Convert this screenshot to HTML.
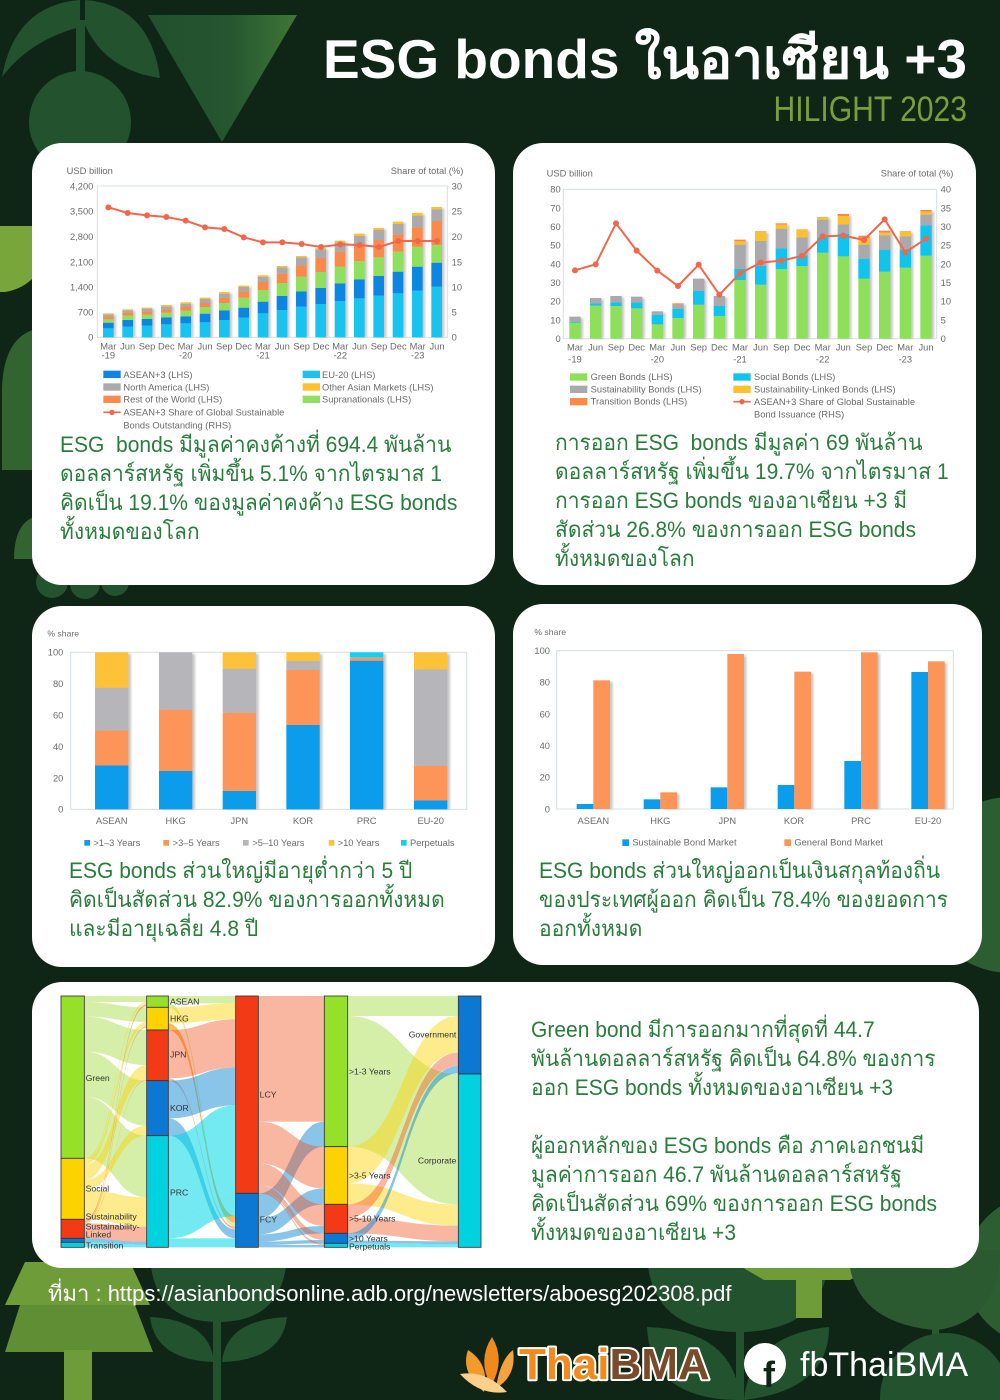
<!DOCTYPE html>
<html><head><meta charset="utf-8">
<style>
html,body{margin:0;padding:0;}
body{width:1000px;height:1400px;position:relative;overflow:hidden;background:#0f2617;font-family:"Liberation Sans",sans-serif;}
.card{position:absolute;background:#fff;border-radius:30px;}
.tx{position:absolute;white-space:nowrap;font-family:"Liberation Sans",sans-serif;font-size:22px;line-height:29px;color:#2a7d3c;transform:scaleX(0.955);transform-origin:left top;}
svg text{font-family:"Liberation Sans",sans-serif;}
.abs{position:absolute;}
</style></head>
<body>
<!-- Background decorations -->
<svg class="abs" style="left:0;top:0" width="1000" height="1400" viewBox="0 0 1000 1400">
<defs>
<linearGradient id="tri" x1="0" y1="0" x2="1" y2="0">
<stop offset="0" stop-color="#22502d"/><stop offset="0.55" stop-color="#255630"/><stop offset="1" stop-color="#3f7636"/>
</linearGradient>
</defs>
<rect width="1000" height="1400" fill="#0f2617"/>
<g fill="#23522f">
<path d="M2 77 Q15 5 80 0 L80 27 Q30 40 2 77 Z"/>
<path d="M85 0 Q150 5 160 78 Q105 70 85 25 Z"/>
<rect x="76" y="20" width="9" height="55"/>
<circle cx="80" cy="122" r="51"/>
</g>
<polygon points="148,15 297,15 222,142" fill="url(#tri)"/>
<path d="M0 226 L50 226 Q48 285 5 292 L0 292 Z" fill="#79a63b"/>
<path d="M40 328 Q0 335 2 400 L2 470 L40 470 Z" fill="#32642f"/>
<path d="M40 515 Q14 520 14 559 L40 559 Z" fill="#32642f"/>
<circle cx="52" cy="582" r="16" fill="#23522f"/>
<circle cx="85" cy="584" r="15" fill="#23522f"/>
<circle cx="115" cy="582" r="14" fill="#23522f"/>
<circle cx="1010" cy="885" r="88" fill="#2d5e31"/>
<circle cx="1040" cy="1270" r="75" fill="#2d5e31"/>
<!-- bottom left tree -->
<g fill="#6e9c38">
<polygon points="25,1262 130,1262 150,1305 5,1305"/>
<polygon points="20,1305 135,1305 153,1352 5,1352" fill="#5f8e35"/>
<rect x="64" y="1350" width="28" height="50"/>
</g>
<!-- tulip -->
<g fill="#23522f">
<path d="M150 1250 L287 1250 Q287 1322 218 1322 Q150 1322 150 1250 Z"/>
<rect x="213" y="1300" width="8" height="100"/>
<path d="M150 1317 Q155 1360 214 1362 Q210 1320 150 1317 Z"/>
<path d="M287 1317 Q282 1360 222 1362 Q226 1320 287 1317 Z"/>
</g>
<!-- bottom right -->
<g fill="#23522f">
<path d="M647 1250 L829 1250 Q829 1332 738 1332 Q647 1332 647 1250 Z"/>
<rect x="736" y="1300" width="8" height="100"/>
<path d="M740 1400 Q650 1400 647 1327 Q735 1330 740 1400 Z"/>
<path d="M744 1400 Q829 1390 829 1327 Q750 1335 744 1400 Z"/>
</g>
<polygon points="740,1266 874,1266 850,1280 764,1280" fill="#6e9c38"/>
<rect x="796" y="1266" width="26" height="52" fill="#6e9c38"/>
<g fill="#2c5a30">
<path d="M934 1330 Q850 1322 848 1250 L934 1250 Z"/>
<path d="M938 1330 Q1000 1320 1000 1250 L938 1250 Z"/>
<rect x="932" y="1250" width="7" height="90"/>
</g>
<circle cx="945" cy="1398" r="65" fill="#23522f"/>
<!-- logo -->
<path d="M484 1392 Q460 1372 468 1350 Q490 1364 484 1392 Z" fill="#f39a2c"/>
<path d="M491 1386 Q477 1360 492 1337 Q506 1360 491 1386 Z" fill="#f08a1e"/>
<path d="M496 1388 Q500 1360 513 1350 Q517 1376 496 1388 Z" fill="#f4a340"/>
<path d="M460 1374 Q480 1396 507 1392 Q486 1370 460 1374 Z" fill="#fcd08a"/>
<text x="519" y="1379" font-size="44" font-weight="bold" stroke="#ffffff" stroke-width="4" paint-order="stroke" stroke-linejoin="round"><tspan fill="#f28a1e">Thai</tspan><tspan fill="#7a4b2a">BMA</tspan></text>
<circle cx="765" cy="1364" r="21" fill="#ffffff"/>
<text x="769" y="1387" font-size="36" font-weight="bold" fill="#0f2617" text-anchor="middle">f</text>
<text x="800" y="1376" font-size="34" fill="#ffffff">fbThaiBMA</text>
</svg>

<!-- Header -->
<div class="abs" style="right:33px;top:32px;font-weight:bold;font-size:55px;line-height:55px;color:#fff;white-space:nowrap;">ESG bonds ในอาเซียน +3</div>
<div class="abs" style="right:33px;top:92px;font-size:35px;line-height:35px;color:#7a9e3c;white-space:nowrap;transform:scaleX(0.86);transform-origin:right center;">HILIGHT 2023</div>

<!-- Cards -->
<div class="card" style="left:32px;top:143px;width:463px;height:442px;"></div>
<div class="card" style="left:513px;top:143px;width:463px;height:442px;"></div>
<div class="card" style="left:32px;top:606px;width:463px;height:361px;"></div>
<div class="card" style="left:513px;top:604px;width:469px;height:361px;"></div>
<div class="card" style="left:32px;top:982px;width:947px;height:286px;"></div>

<!-- Chart 1 -->
<svg class="abs" style="left:40px;top:150px" width="450" height="285" viewBox="0 0 1350 855">
<defs><filter id="sh1" x="-20%" y="-20%" width="140%" height="140%"><feGaussianBlur stdDeviation="3"/></filter></defs>
<style>.c1{fill:#19c3f0}.b1{fill:#0b86e3}.g1{fill:#8fe05c}.o1{fill:#fb8a4a}.y1{fill:#a9a9ae}.l1{fill:#fcc12c}.t1{fill:#6b6b6b;font-size:28px}</style>
<rect x="172" y="108" width="1050" height="454" fill="none" stroke="#d8e0e3" stroke-width="3"/>
<text class="t1" x="80" y="72">USD billion</text>
<text class="t1" x="1270" y="72" text-anchor="end">Share of total (%)</text>
<g class="t1" text-anchor="end">
<text x="160" y="118">4,200</text><text x="160" y="194">3,500</text><text x="160" y="270">2,800</text><text x="160" y="346">2,100</text><text x="160" y="421">1,400</text><text x="160" y="497">700</text><text x="160" y="572">0</text>
</g>
<g class="t1">
<text x="1235" y="118">30</text><text x="1235" y="194">25</text><text x="1235" y="270">20</text><text x="1235" y="346">15</text><text x="1235" y="421">10</text><text x="1235" y="497">5</text><text x="1235" y="572">0</text>
</g>
<g fill="#9a9a9a" opacity="0.55" filter="url(#sh1)">
<rect x="196" y="494" width="32" height="68"/><rect x="254" y="482" width="32" height="80"/><rect x="312" y="477" width="32" height="85"/><rect x="370" y="469" width="32" height="93"/><rect x="428" y="461" width="32" height="101"/><rect x="486" y="447" width="32" height="115"/><rect x="544" y="430" width="32" height="132"/><rect x="602" y="411" width="32" height="151"/><rect x="660" y="380" width="32" height="182"/><rect x="717" y="352" width="32" height="210"/><rect x="775" y="322" width="32" height="240"/><rect x="833" y="298" width="32" height="264"/><rect x="891" y="276" width="32" height="286"/><rect x="949" y="255" width="32" height="307"/><rect x="1007" y="238" width="32" height="324"/><rect x="1065" y="219" width="32" height="343"/><rect x="1123" y="193" width="32" height="369"/><rect x="1181" y="175" width="32" height="387"/>
</g>
<g>
<rect class="c1" x="189" y="535" width="32" height="27"/><rect class="b1" x="189" y="518" width="32" height="17"/><rect class="g1" x="189" y="508" width="32" height="10"/><rect class="o1" x="189" y="500" width="32" height="8"/><rect class="y1" x="189" y="493" width="32" height="7"/><rect class="l1" x="189" y="490" width="32" height="3"/>
<rect class="c1" x="247" y="530" width="32" height="32"/><rect class="b1" x="247" y="510" width="32" height="20"/><rect class="g1" x="247" y="497" width="32" height="13"/><rect class="o1" x="247" y="488" width="32" height="9"/><rect class="y1" x="247" y="481" width="32" height="7"/><rect class="l1" x="247" y="478" width="32" height="3"/>
<rect class="c1" x="305" y="527" width="32" height="35"/><rect class="b1" x="305" y="507" width="32" height="20"/><rect class="g1" x="305" y="494" width="32" height="13"/><rect class="o1" x="305" y="484" width="32" height="10"/><rect class="y1" x="305" y="476" width="32" height="8"/><rect class="l1" x="305" y="473" width="32" height="3"/>
<rect class="c1" x="363" y="523" width="32" height="39"/><rect class="b1" x="363" y="502" width="32" height="21"/><rect class="g1" x="363" y="488" width="32" height="14"/><rect class="o1" x="363" y="478" width="32" height="10"/><rect class="y1" x="363" y="469" width="32" height="9"/><rect class="l1" x="363" y="465" width="32" height="4"/>
<rect class="c1" x="421" y="520" width="32" height="42"/><rect class="b1" x="421" y="499" width="32" height="21"/><rect class="g1" x="421" y="482" width="32" height="17"/><rect class="o1" x="421" y="470" width="32" height="12"/><rect class="y1" x="421" y="461" width="32" height="9"/><rect class="l1" x="421" y="457" width="32" height="4"/>
<rect class="c1" x="479" y="517" width="32" height="45"/><rect class="b1" x="479" y="491" width="32" height="26"/><rect class="g1" x="479" y="471" width="32" height="20"/><rect class="o1" x="479" y="459" width="32" height="12"/><rect class="y1" x="479" y="447" width="32" height="12"/><rect class="l1" x="479" y="443" width="32" height="4"/>
<rect class="c1" x="537" y="510" width="32" height="52"/><rect class="b1" x="537" y="481" width="32" height="29"/><rect class="g1" x="537" y="459" width="32" height="22"/><rect class="o1" x="537" y="443" width="32" height="16"/><rect class="y1" x="537" y="431" width="32" height="12"/><rect class="l1" x="537" y="426" width="32" height="5"/>
<rect class="c1" x="595" y="503" width="32" height="59"/><rect class="b1" x="595" y="473" width="32" height="30"/><rect class="g1" x="595" y="443" width="32" height="30"/><rect class="o1" x="595" y="424" width="32" height="19"/><rect class="y1" x="595" y="411" width="32" height="13"/><rect class="l1" x="595" y="407" width="32" height="4"/>
<rect class="c1" x="653" y="490" width="32" height="72"/><rect class="b1" x="653" y="455" width="32" height="35"/><rect class="g1" x="653" y="420" width="32" height="35"/><rect class="o1" x="653" y="396" width="32" height="24"/><rect class="y1" x="653" y="381" width="32" height="15"/><rect class="l1" x="653" y="376" width="32" height="5"/>
<rect class="c1" x="710" y="480" width="32" height="82"/><rect class="b1" x="710" y="438" width="32" height="42"/><rect class="g1" x="710" y="399" width="32" height="39"/><rect class="o1" x="710" y="371" width="32" height="28"/><rect class="y1" x="710" y="352" width="32" height="19"/><rect class="l1" x="710" y="348" width="32" height="4"/>
<rect class="c1" x="768" y="470" width="32" height="92"/><rect class="b1" x="768" y="424" width="32" height="46"/><rect class="g1" x="768" y="380" width="32" height="44"/><rect class="o1" x="768" y="346" width="32" height="34"/><rect class="y1" x="768" y="322" width="32" height="24"/><rect class="l1" x="768" y="318" width="32" height="4"/>
<rect class="c1" x="826" y="462" width="32" height="100"/><rect class="b1" x="826" y="414" width="32" height="48"/><rect class="g1" x="826" y="366" width="32" height="48"/><rect class="o1" x="826" y="323" width="32" height="43"/><rect class="y1" x="826" y="298" width="32" height="25"/><rect class="l1" x="826" y="294" width="32" height="4"/>
<rect class="c1" x="884" y="453" width="32" height="109"/><rect class="b1" x="884" y="400" width="32" height="53"/><rect class="g1" x="884" y="350" width="32" height="50"/><rect class="o1" x="884" y="305" width="32" height="45"/><rect class="y1" x="884" y="277" width="32" height="28"/><rect class="l1" x="884" y="272" width="32" height="5"/>
<rect class="c1" x="942" y="445" width="32" height="117"/><rect class="b1" x="942" y="388" width="32" height="57"/><rect class="g1" x="942" y="333" width="32" height="55"/><rect class="o1" x="942" y="285" width="32" height="48"/><rect class="y1" x="942" y="258" width="32" height="27"/><rect class="l1" x="942" y="251" width="32" height="7"/>
<rect class="c1" x="1000" y="437" width="32" height="125"/><rect class="b1" x="1000" y="378" width="32" height="59"/><rect class="g1" x="1000" y="322" width="32" height="56"/><rect class="o1" x="1000" y="270" width="32" height="52"/><rect class="y1" x="1000" y="240" width="32" height="30"/><rect class="l1" x="1000" y="234" width="32" height="6"/>
<rect class="c1" x="1058" y="430" width="32" height="132"/><rect class="b1" x="1058" y="365" width="32" height="65"/><rect class="g1" x="1058" y="305" width="32" height="60"/><rect class="o1" x="1058" y="253" width="32" height="52"/><rect class="y1" x="1058" y="222" width="32" height="31"/><rect class="l1" x="1058" y="215" width="32" height="7"/>
<rect class="c1" x="1116" y="422" width="32" height="140"/><rect class="b1" x="1116" y="350" width="32" height="72"/><rect class="g1" x="1116" y="290" width="32" height="60"/><rect class="o1" x="1116" y="232" width="32" height="58"/><rect class="y1" x="1116" y="197" width="32" height="35"/><rect class="l1" x="1116" y="189" width="32" height="8"/>
<rect class="c1" x="1174" y="410" width="32" height="152"/><rect class="b1" x="1174" y="338" width="32" height="72"/><rect class="g1" x="1174" y="285" width="32" height="53"/><rect class="o1" x="1174" y="213" width="32" height="72"/><rect class="y1" x="1174" y="178" width="32" height="35"/><rect class="l1" x="1174" y="171" width="32" height="7"/>
</g>
<polyline fill="none" stroke="#f2664a" stroke-width="6" points="205,172 263,189 321,196 379,201 437,212 495,232 553,237 611,262 669,277 727,277 785,282 843,291 901,283 959,285 1017,291 1075,273 1133,273 1191,273"/>
<g fill="#f2664a">
<circle cx="205" cy="172" r="9"/><circle cx="263" cy="189" r="9"/><circle cx="321" cy="196" r="9"/><circle cx="379" cy="201" r="9"/><circle cx="437" cy="212" r="9"/><circle cx="495" cy="232" r="9"/><circle cx="553" cy="237" r="9"/><circle cx="611" cy="262" r="9"/><circle cx="669" cy="277" r="9"/><circle cx="727" cy="277" r="9"/><circle cx="785" cy="282" r="9"/><circle cx="843" cy="291" r="9"/><circle cx="901" cy="283" r="9"/><circle cx="959" cy="285" r="9"/><circle cx="1017" cy="291" r="9"/><circle cx="1075" cy="273" r="9"/><circle cx="1133" cy="273" r="9"/><circle cx="1191" cy="273" r="9"/>
</g>
<g class="t1" text-anchor="middle">
<text x="205" y="598">Mar</text><text x="263" y="598">Jun</text><text x="321" y="598">Sep</text><text x="379" y="598">Dec</text><text x="437" y="598">Mar</text><text x="495" y="598">Jun</text><text x="553" y="598">Sep</text><text x="611" y="598">Dec</text><text x="669" y="598">Mar</text><text x="727" y="598">Jun</text><text x="785" y="598">Sep</text><text x="843" y="598">Dec</text><text x="901" y="598">Mar</text><text x="959" y="598">Jun</text><text x="1017" y="598">Sep</text><text x="1075" y="598">Dec</text><text x="1133" y="598">Mar</text><text x="1191" y="598">Jun</text>
<text x="205" y="625">-19</text><text x="437" y="625">-20</text><text x="669" y="625">-21</text><text x="901" y="625">-22</text><text x="1133" y="625">-23</text>
</g>
<rect class="b1" x="190" y="662" width="52" height="22"/><text class="t1" x="250" y="684">ASEAN+3 (LHS)</text>
<rect class="y1" x="190" y="700" width="52" height="22"/><text class="t1" x="250" y="721">North America (LHS)</text>
<rect class="o1" x="190" y="737" width="52" height="22"/><text class="t1" x="250" y="758">Rest of the World (LHS)</text>
<line x1="190" y1="787" x2="242" y2="787" stroke="#f2664a" stroke-width="5"/><circle cx="216" cy="787" r="8" fill="#f2664a"/>
<text class="t1" x="250" y="797">ASEAN+3 Share of Global Sustainable</text>
<text class="t1" x="250" y="836">Bonds Outstanding (RHS)</text>
<rect class="c1" x="788" y="662" width="52" height="22"/><text class="t1" x="846" y="684">EU-20 (LHS)</text>
<rect class="l1" x="788" y="700" width="52" height="22"/><text class="t1" x="846" y="721">Other Asian Markets (LHS)</text>
<rect class="g1" x="788" y="737" width="52" height="22"/><text class="t1" x="846" y="758">Supranationals (LHS)</text>
</svg>

<!-- Chart 2 -->
<svg class="abs" style="left:530px;top:160px" width="440" height="265" viewBox="0 0 1320 795">
<defs><filter id="sh2" x="-20%" y="-20%" width="140%" height="140%"><feGaussianBlur stdDeviation="3"/></filter></defs>
<style>.g2{fill:#8ee05a}.s2{fill:#10c4ee}.y2{fill:#a9a9ae}.l2{fill:#fcc12c}.o2{fill:#fb8a4a}.t2{fill:#6b6b6b;font-size:28px}</style>
<rect x="100" y="88" width="1120" height="448" fill="none" stroke="#d8e0e3" stroke-width="3"/>
<text class="t2" x="50" y="50">USD billion</text>
<text class="t2" x="1270" y="50" text-anchor="end">Share of total (%)</text>
<g class="t2" text-anchor="end">
<text x="92" y="98">80</text><text x="92" y="154">70</text><text x="92" y="210">60</text><text x="92" y="266">50</text><text x="92" y="322">40</text><text x="92" y="378">30</text><text x="92" y="434">20</text><text x="92" y="490">10</text><text x="92" y="546">0</text>
</g>
<g class="t2">
<text x="1232" y="98">40</text><text x="1232" y="154">35</text><text x="1232" y="210">30</text><text x="1232" y="266">25</text><text x="1232" y="322">20</text><text x="1232" y="378">15</text><text x="1232" y="434">10</text><text x="1232" y="490">5</text><text x="1232" y="546">0</text>
</g>
<g fill="#9a9a9a" opacity="0.55" filter="url(#sh2)">
<rect x="125" y="474" width="34" height="62"/><rect x="187" y="418" width="34" height="118"/><rect x="248" y="412" width="34" height="124"/><rect x="310" y="414" width="34" height="122"/><rect x="372" y="458" width="34" height="78"/><rect x="434" y="434" width="34" height="102"/><rect x="496" y="360" width="34" height="176"/><rect x="558" y="412" width="34" height="124"/><rect x="620" y="243" width="34" height="293"/><rect x="682" y="218" width="34" height="318"/><rect x="744" y="194" width="34" height="342"/><rect x="806" y="212" width="34" height="324"/><rect x="868" y="175" width="34" height="361"/><rect x="930" y="166" width="34" height="370"/><rect x="992" y="231" width="34" height="305"/><rect x="1054" y="216" width="34" height="320"/><rect x="1116" y="218" width="34" height="318"/><rect x="1178" y="154" width="34" height="382"/>
</g>
<g>
<rect class="g2" x="118" y="488" width="34" height="48"/><rect class="s2" x="118" y="485" width="34" height="3"/><rect class="y2" x="118" y="470" width="34" height="15"/>
<rect class="g2" x="180" y="437" width="34" height="99"/><rect class="s2" x="180" y="430" width="34" height="7"/><rect class="y2" x="180" y="414" width="34" height="16"/>
<rect class="g2" x="241" y="438" width="34" height="98"/><rect class="s2" x="241" y="427" width="34" height="11"/><rect class="y2" x="241" y="408" width="34" height="19"/>
<rect class="g2" x="303" y="445" width="34" height="91"/><rect class="s2" x="303" y="427" width="34" height="18"/><rect class="y2" x="303" y="410" width="34" height="17"/>
<rect class="g2" x="365" y="493" width="34" height="43"/><rect class="s2" x="365" y="464" width="34" height="29"/><rect class="y2" x="365" y="454" width="34" height="10"/>
<rect class="g2" x="427" y="474" width="34" height="62"/><rect class="s2" x="427" y="446" width="34" height="28"/><rect class="y2" x="427" y="434" width="34" height="12"/><rect class="o2" x="427" y="430" width="34" height="4"/>
<rect class="g2" x="489" y="434" width="34" height="102"/><rect class="s2" x="489" y="393" width="34" height="41"/><rect class="y2" x="489" y="356" width="34" height="37"/>
<rect class="g2" x="551" y="468" width="34" height="68"/><rect class="s2" x="551" y="438" width="34" height="30"/><rect class="y2" x="551" y="408" width="34" height="30"/>
<rect class="g2" x="613" y="360" width="34" height="176"/><rect class="s2" x="613" y="327" width="34" height="33"/><rect class="y2" x="613" y="254" width="34" height="73"/><rect class="l2" x="613" y="244" width="34" height="10"/><rect class="o2" x="613" y="239" width="34" height="5"/>
<rect class="g2" x="675" y="374" width="34" height="162"/><rect class="s2" x="675" y="318" width="34" height="56"/><rect class="y2" x="675" y="243" width="34" height="75"/><rect class="l2" x="675" y="216" width="34" height="27"/><rect class="o2" x="675" y="214" width="34" height="2"/>
<rect class="g2" x="737" y="327" width="34" height="209"/><rect class="s2" x="737" y="265" width="34" height="62"/><rect class="y2" x="737" y="207" width="34" height="58"/><rect class="l2" x="737" y="194" width="34" height="13"/><rect class="o2" x="737" y="190" width="34" height="4"/>
<rect class="g2" x="799" y="318" width="34" height="218"/><rect class="s2" x="799" y="286" width="34" height="32"/><rect class="y2" x="799" y="232" width="34" height="54"/><rect class="l2" x="799" y="209" width="34" height="23"/><rect class="o2" x="799" y="208" width="34" height="1"/>
<rect class="g2" x="861" y="278" width="34" height="258"/><rect class="s2" x="861" y="232" width="34" height="46"/><rect class="y2" x="861" y="179" width="34" height="53"/><rect class="l2" x="861" y="172" width="34" height="7"/><rect class="o2" x="861" y="171" width="34" height="1"/>
<rect class="g2" x="923" y="289" width="34" height="247"/><rect class="s2" x="923" y="222" width="34" height="67"/><rect class="y2" x="923" y="193" width="34" height="29"/><rect class="l2" x="923" y="168" width="34" height="25"/><rect class="o2" x="923" y="162" width="34" height="6"/>
<rect class="g2" x="985" y="356" width="34" height="180"/><rect class="s2" x="985" y="296" width="34" height="60"/><rect class="y2" x="985" y="254" width="34" height="42"/><rect class="l2" x="985" y="234" width="34" height="20"/><rect class="o2" x="985" y="227" width="34" height="7"/>
<rect class="g2" x="1047" y="335" width="34" height="201"/><rect class="s2" x="1047" y="269" width="34" height="66"/><rect class="y2" x="1047" y="226" width="34" height="43"/><rect class="l2" x="1047" y="218" width="34" height="8"/><rect class="o2" x="1047" y="212" width="34" height="6"/>
<rect class="g2" x="1109" y="323" width="34" height="213"/><rect class="s2" x="1109" y="268" width="34" height="55"/><rect class="y2" x="1109" y="229" width="34" height="39"/><rect class="l2" x="1109" y="216" width="34" height="13"/><rect class="o2" x="1109" y="214" width="34" height="2"/>
<rect class="g2" x="1171" y="287" width="34" height="249"/><rect class="s2" x="1171" y="196" width="34" height="91"/><rect class="y2" x="1171" y="164" width="34" height="32"/><rect class="l2" x="1171" y="155" width="34" height="9"/><rect class="o2" x="1171" y="150" width="34" height="5"/>
</g>
<polyline fill="none" stroke="#f2664a" stroke-width="6" points="135,331 197,313 258,190 320,272 382,332 444,378 506,314 568,404 630,340 692,308 754,302 816,288 878,229 940,227 1002,240 1064,178 1126,277 1188,236"/>
<g fill="#f2664a">
<circle cx="135" cy="331" r="9"/><circle cx="197" cy="313" r="9"/><circle cx="258" cy="190" r="9"/><circle cx="320" cy="272" r="9"/><circle cx="382" cy="332" r="9"/><circle cx="444" cy="378" r="9"/><circle cx="506" cy="314" r="9"/><circle cx="568" cy="404" r="9"/><circle cx="630" cy="340" r="9"/><circle cx="692" cy="308" r="9"/><circle cx="754" cy="302" r="9"/><circle cx="816" cy="288" r="9"/><circle cx="878" cy="229" r="9"/><circle cx="940" cy="227" r="9"/><circle cx="1002" cy="240" r="9"/><circle cx="1064" cy="178" r="9"/><circle cx="1126" cy="277" r="9"/><circle cx="1188" cy="236" r="9"/>
</g>
<g class="t2" text-anchor="middle">
<text x="135" y="572">Mar</text><text x="197" y="572">Jun</text><text x="258" y="572">Sep</text><text x="320" y="572">Dec</text><text x="382" y="572">Mar</text><text x="444" y="572">Jun</text><text x="506" y="572">Sep</text><text x="568" y="572">Dec</text><text x="630" y="572">Mar</text><text x="692" y="572">Jun</text><text x="754" y="572">Sep</text><text x="816" y="572">Dec</text><text x="878" y="572">Mar</text><text x="940" y="572">Jun</text><text x="1002" y="572">Sep</text><text x="1064" y="572">Dec</text><text x="1126" y="572">Mar</text><text x="1188" y="572">Jun</text>
<text x="135" y="607">-19</text><text x="382" y="607">-20</text><text x="630" y="607">-21</text><text x="878" y="607">-22</text><text x="1126" y="607">-23</text>
</g>
<rect class="g2" x="120" y="640" width="52" height="22"/><text class="t2" x="182" y="660">Green Bonds (LHS)</text>
<rect class="y2" x="120" y="677" width="52" height="22"/><text class="t2" x="182" y="697">Sustainability Bonds (LHS)</text>
<rect class="o2" x="120" y="714" width="52" height="22"/><text class="t2" x="182" y="734">Transition Bonds (LHS)</text>
<rect class="s2" x="610" y="640" width="52" height="22"/><text class="t2" x="672" y="660">Social Bonds (LHS)</text>
<rect class="l2" x="610" y="677" width="52" height="22"/><text class="t2" x="672" y="697">Sustainability-Linked Bonds (LHS)</text>
<line x1="610" y1="725" x2="662" y2="725" stroke="#f2664a" stroke-width="5"/><circle cx="636" cy="725" r="8" fill="#f2664a"/>
<text class="t2" x="672" y="735">ASEAN+3 Share of Global Sustainable</text>
<text class="t2" x="672" y="772">Bond Issuance (RHS)</text>
</svg>

<!-- Chart 3 -->
<svg class="abs" style="left:40px;top:620px" width="440" height="235" viewBox="0 0 1320 705">
<defs><filter id="sh3" x="-20%" y="-20%" width="140%" height="140%"><feGaussianBlur stdDeviation="3"/></filter></defs>
<style>.b3{fill:#0b9ceb}.o3{fill:#fc9557}.y3{fill:#b5b5ba}.l3{fill:#fdc238}.c3{fill:#14cff0}.t3{fill:#6b6b6b;font-size:28px}</style>
<rect x="92" y="97" width="1188" height="471" fill="none" stroke="#d8e0e3" stroke-width="3"/>
<text class="t3" x="22" y="50" style="font-size:26px">% share</text>
<g class="t3" text-anchor="end">
<text x="70" y="107">100</text><text x="70" y="201">80</text><text x="70" y="296">60</text><text x="70" y="390">40</text><text x="70" y="484">20</text><text x="70" y="578">0</text>
</g>
<g fill="#9a9a9a" opacity="0.55" filter="url(#sh3)">
<rect x="173" y="102" width="100" height="466"/><rect x="365" y="102" width="100" height="466"/><rect x="556" y="102" width="100" height="466"/><rect x="747" y="102" width="100" height="466"/><rect x="938" y="102" width="100" height="466"/><rect x="1130" y="102" width="100" height="466"/>
</g>
<rect class="b3" x="165" y="436" width="100" height="132"/><rect class="o3" x="165" y="331" width="100" height="105"/><rect class="y3" x="165" y="203" width="100" height="128"/><rect class="l3" x="165" y="97" width="100" height="106"/>
<rect class="b3" x="357" y="453" width="100" height="115"/><rect class="o3" x="357" y="269" width="100" height="184"/><rect class="y3" x="357" y="97" width="100" height="172"/>
<rect class="b3" x="548" y="513" width="100" height="55"/><rect class="o3" x="548" y="278" width="100" height="235"/><rect class="y3" x="548" y="146" width="100" height="132"/><rect class="l3" x="548" y="97" width="100" height="49"/>
<rect class="b3" x="739" y="315" width="100" height="253"/><rect class="o3" x="739" y="149" width="100" height="166"/><rect class="y3" x="739" y="123" width="100" height="26"/><rect class="l3" x="739" y="97" width="100" height="26"/>
<rect class="b3" x="930" y="122" width="100" height="446"/><rect class="o3" x="930" y="114" width="100" height="8"/><rect class="y3" x="930" y="112" width="100" height="2"/><rect class="c3" x="930" y="97" width="100" height="15"/>
<rect class="b3" x="1122" y="541" width="100" height="27"/><rect class="o3" x="1122" y="437" width="100" height="104"/><rect class="y3" x="1122" y="148" width="100" height="289"/><rect class="l3" x="1122" y="97" width="100" height="51"/>
<g class="t3" text-anchor="middle">
<text x="215" y="612">ASEAN</text><text x="407" y="612">HKG</text><text x="598" y="612">JPN</text><text x="789" y="612">KOR</text><text x="980" y="612">PRC</text><text x="1172" y="612">EU-20</text>
</g>
<rect class="b3" x="133" y="660" width="17" height="17"/><text class="t3" x="160" y="678">&gt;1–3 Years</text>
<rect class="o3" x="370" y="660" width="17" height="17"/><text class="t3" x="398" y="678">&gt;3–5 Years</text>
<rect class="y3" x="609" y="660" width="17" height="17"/><text class="t3" x="637" y="678">&gt;5–10 Years</text>
<rect class="l3" x="866" y="660" width="17" height="17"/><text class="t3" x="893" y="678">&gt;10 Years</text>
<rect class="c3" x="1083" y="660" width="17" height="17"/><text class="t3" x="1110" y="678">Perpetuals</text>
</svg>

<!-- Chart 4 -->
<svg class="abs" style="left:525px;top:620px" width="445" height="235" viewBox="0 0 1335 705">
<defs><filter id="sh4" x="-20%" y="-20%" width="140%" height="140%"><feGaussianBlur stdDeviation="3"/></filter></defs>
<style>.b4{fill:#0b9ceb}.o4{fill:#fc9557}.t4{fill:#6b6b6b;font-size:28px}</style>
<rect x="95" y="92" width="1190" height="475" fill="none" stroke="#d8e0e3" stroke-width="3"/>
<text class="t4" x="28" y="45" style="font-size:26px">% share</text>
<g class="t4" text-anchor="end">
<text x="75" y="102">100</text><text x="75" y="197">80</text><text x="75" y="292">60</text><text x="75" y="387">40</text><text x="75" y="482">20</text><text x="75" y="577">0</text>
</g>
<g fill="#9a9a9a" opacity="0.55" filter="url(#sh4)">
<rect x="213" y="186" width="50" height="381"/><rect x="413" y="522" width="50" height="45"/><rect x="614" y="107" width="50" height="460"/><rect x="815" y="160" width="50" height="407"/><rect x="1015" y="102" width="50" height="465"/><rect x="1216" y="129" width="50" height="438"/>
</g>
<rect class="b4" x="155" y="552" width="50" height="15"/><rect class="o4" x="205" y="181" width="50" height="386"/>
<rect class="b4" x="356" y="538" width="50" height="29"/><rect class="o4" x="406" y="517" width="50" height="50"/>
<rect class="b4" x="557" y="502" width="50" height="65"/><rect class="o4" x="607" y="102" width="50" height="465"/>
<rect class="b4" x="758" y="495" width="50" height="72"/><rect class="o4" x="808" y="155" width="50" height="412"/>
<rect class="b4" x="958" y="423" width="50" height="144"/><rect class="o4" x="1008" y="97" width="50" height="470"/>
<rect class="b4" x="1159" y="156" width="50" height="411"/><rect class="o4" x="1209" y="124" width="50" height="443"/>
<g class="t4" text-anchor="middle">
<text x="205" y="612">ASEAN</text><text x="406" y="612">HKG</text><text x="607" y="612">JPN</text><text x="807" y="612">KOR</text><text x="1008" y="612">PRC</text><text x="1209" y="612">EU-20</text>
</g>
<rect class="b4" x="292" y="658" width="20" height="20"/><text class="t4" x="322" y="677">Sustainable Bond Market</text>
<rect class="o4" x="778" y="658" width="20" height="20"/><text class="t4" x="808" y="677">General Bond Market</text>
</svg>

<!-- Sankey -->
<svg class="abs" style="left:55px;top:990px" width="435" height="262" viewBox="0 0 1305 786">
<style>.lg{fill:rgba(150,215,40,0.4)}.ly{fill:rgba(252,210,0,0.45)}.lr{fill:rgba(240,80,30,0.42)}.lb{fill:rgba(20,140,210,0.5)}.lc{fill:rgba(0,215,230,0.55)}.lo{fill:rgba(250,150,0,0.65)}.nd{stroke:#333;stroke-width:2.5}.ts{fill:#333;font-size:26px}</style>
<rect x="0" y="0" width="1305" height="786" fill="#fff"/>
<path class="lg" d="M88 18 C181.5 18 181.5 18 275 18 L275 36 C181.5 36 181.5 36 88 36 Z"/>
<path class="lg" d="M88 36 C181.5 36 181.5 52 275 52 L275 96 C181.5 96 181.5 80 88 80 Z"/>
<path class="lg" d="M88 80 C181.5 80 181.5 120 275 120 L275 225 C181.5 225 181.5 185 88 185 Z"/>
<path class="lg" d="M88 185 C181.5 185 181.5 272 275 272 L275 407 C181.5 407 181.5 320 88 320 Z"/>
<path class="lg" d="M88 320 C181.5 320 181.5 437 275 437 L275 622 C181.5 622 181.5 505 88 505 Z"/>
<path class="ly" d="M88 505 C181.5 505 181.5 36 275 36 L275 43 C181.5 43 181.5 512 88 512 Z"/>
<path class="ly" d="M88 512 C181.5 512 181.5 96 275 96 L275 109 C181.5 109 181.5 525 88 525 Z"/>
<path class="ly" d="M88 525 C181.5 525 181.5 225 275 225 L275 270 C181.5 270 181.5 570 88 570 Z"/>
<path class="ly" d="M88 570 C181.5 570 181.5 407 275 407 L275 437 C181.5 437 181.5 600 88 600 Z"/>
<path class="ly" d="M88 600 C181.5 600 181.5 622 275 622 L275 710 C181.5 710 181.5 688 88 688 Z"/>
<path class="lr" d="M88 688 C181.5 688 181.5 43 275 43 L275 49 C181.5 49 181.5 694 88 694 Z"/>
<path class="lr" d="M88 694 C181.5 694 181.5 109 275 109 L275 113 C181.5 113 181.5 698 88 698 Z"/>
<path class="lr" d="M88 698 C181.5 698 181.5 270 275 270 L275 272 C181.5 272 181.5 700 88 700 Z"/>
<path class="lr" d="M88 700 C181.5 700 181.5 710 275 710 L275 755 C181.5 755 181.5 745 88 745 Z"/>
<path class="lb" d="M88 745 C181.5 745 181.5 755 275 755 L275 764 C181.5 764 181.5 757 88 757 Z"/>
<path class="lc" d="M88 757 C181.5 757 181.5 764 275 764 L275 772 C181.5 772 181.5 772 88 772 Z"/>
<path class="lg" d="M340 18 C441 18 441 18 542 18 L542 40 C441 40 441 40 340 40 Z"/>
<path class="lg" d="M340 40 C441 40 441 698 542 698 L542 710 C441 710 441 52 340 52 Z"/>
<path class="ly" d="M340 52 C441 52 441 40 542 40 L542 88 C441 88 441 100 340 100 Z"/>
<path class="lo" d="M340 100 C441 100 441 678 542 678 L542 698 C441 698 441 120 340 120 Z"/>
<path class="lr" d="M340 120 C441 120 441 88 542 88 L542 233 C441 233 441 265 340 265 Z"/>
<path class="lr" d="M340 265 C441 265 441 710 542 710 L542 717 C441 717 441 272 340 272 Z"/>
<path class="lb" d="M340 272 C441 272 441 233 542 233 L542 346 C441 346 441 385 340 385 Z"/>
<path class="lb" d="M340 385 C441 385 441 718 542 718 L542 745 C441 745 441 437 340 437 Z"/>
<path class="lc" d="M340 437 C441 437 441 346 542 346 L542 610 C441 610 441 701 340 701 Z"/>
<path class="lc" d="M340 701 C441 701 441 610 542 610 L542 678 C441 678 441 745 340 745 Z"/>
<path class="lc" d="M340 745 C441 745 441 745 542 745 L542 772 C441 772 441 772 340 772 Z"/>
<path class="lr" d="M610 18 C709 18 709 18 808 18 L808 395 C709 395 709 395 610 395 Z"/>
<path class="lb" d="M610 610 C709 610 709 395 808 395 L808 470 C709 470 709 685 610 685 Z"/>
<path class="lr" d="M610 395 C709 395 709 470 808 470 L808 595 C709 595 709 520 610 520 Z"/>
<path class="lb" d="M610 685 C709 685 709 595 808 595 L808 643 C709 643 709 733 610 733 Z"/>
<path class="lr" d="M610 520 C709 520 709 643 808 643 L808 708 C709 708 709 585 610 585 Z"/>
<path class="lb" d="M610 733 C709 733 709 708 808 708 L808 730 C709 730 709 755 610 755 Z"/>
<path class="lr" d="M610 585 C709 585 709 730 808 730 L808 750 C709 750 709 605 610 605 Z"/>
<path class="lb" d="M610 755 C709 755 709 750 808 750 L808 760 C709 760 709 765 610 765 Z"/>
<path class="lr" d="M610 605 C709 605 709 760 808 760 L808 765 C709 765 709 610 610 610 Z"/>
<path class="lb" d="M610 765 C709 765 709 765 808 765 L808 772 C709 772 709 772 610 772 Z"/>
<path class="lg" d="M878 18 C1044 18 1044 18 1210 18 L1210 78 C1044 78 1044 78 878 78 Z"/>
<path class="lg" d="M878 78 C1044 78 1044 252 1210 252 L1210 644 C1044 644 1044 470 878 470 Z"/>
<path class="ly" d="M878 470 C1044 470 1044 78 1210 78 L1210 188 C1044 188 1044 580 878 580 Z"/>
<path class="ly" d="M878 580 C1044 580 1044 644 1210 644 L1210 707 C1044 707 1044 643 878 643 Z"/>
<path class="lr" d="M878 643 C1044 643 1044 188 1210 188 L1210 228 C1044 228 1044 683 878 683 Z"/>
<path class="lr" d="M878 683 C1044 683 1044 707 1210 707 L1210 754 C1044 754 1044 730 878 730 Z"/>
<path class="lb" d="M878 730 C1044 730 1044 228 1210 228 L1210 250 C1044 250 1044 752 878 752 Z"/>
<path class="lb" d="M878 752 C1044 752 1044 754 1210 754 L1210 762 C1044 762 1044 760 878 760 Z"/>
<path class="lc" d="M878 760 C1044 760 1044 762 1210 762 L1210 772 C1044 772 1044 772 878 772 Z"/>
<g class="nd">
<rect x="18" y="18" width="70" height="487" fill="#96e02a"/><rect x="18" y="505" width="70" height="183" fill="#fcd200"/><rect x="18" y="688" width="70" height="57" fill="#f33a16"/><rect x="18" y="745" width="70" height="12" fill="#0c78d4"/><rect x="18" y="757" width="70" height="15" fill="#00d2e0"/>
<rect x="275" y="18" width="65" height="34" fill="#96e02a"/><rect x="275" y="52" width="65" height="68" fill="#fcd200"/><rect x="275" y="120" width="65" height="152" fill="#f33a16"/><rect x="275" y="272" width="65" height="165" fill="#0c78d4"/><rect x="275" y="437" width="65" height="335" fill="#00d2e0"/>
<rect x="542" y="18" width="68" height="592" fill="#f33a16"/><rect x="542" y="610" width="68" height="162" fill="#0c78d4"/>
<rect x="808" y="18" width="70" height="452" fill="#96e02a"/><rect x="808" y="470" width="70" height="173" fill="#fcd200"/><rect x="808" y="643" width="70" height="87" fill="#f33a16"/><rect x="808" y="730" width="70" height="30" fill="#0c78d4"/><rect x="808" y="760" width="70" height="12" fill="#00d2e0"/>
<rect x="1210" y="18" width="68" height="234" fill="#0c78d4"/><rect x="1210" y="252" width="68" height="520" fill="#00d2e0"/>
</g>
<g class="ts">
<text x="92" y="273">Green</text><text x="92" y="605">Social</text><text x="92" y="689">Sustainability</text><text x="92" y="718">Sustainability-</text><text x="92" y="743">Linked</text><text x="92" y="775">Transition</text>
<text x="345" y="43">ASEAN</text><text x="345" y="95">HKG</text><text x="345" y="203">JPN</text><text x="345" y="363">KOR</text><text x="345" y="616">PRC</text>
<text x="614" y="322">LCY</text><text x="614" y="698">FCY</text>
<text x="882" y="253">&gt;1-3 Years</text><text x="882" y="566">&gt;3-5 Years</text><text x="882" y="695">&gt;5-10 Years</text><text x="882" y="755">&gt;10 Years</text><text x="882" y="778">Perpetuals</text>
<text x="1204" y="143" text-anchor="end">Government</text><text x="1204" y="521" text-anchor="end">Corporate</text>
</g>
</svg>

<!-- Card texts -->
<div class="tx" style="left:60px;top:430px;">ESG&nbsp; bonds มีมูลค่าคงค้างที่ 694.4 พันล้าน<br>ดอลลาร์สหรัฐ เพิ่มขึ้น 5.1% จากไตรมาส 1<br>คิดเป็น 19.1% ของมูลค่าคงค้าง ESG bonds<br>ทั้งหมดของโลก</div>
<div class="tx" style="left:555px;top:428px;">การออก ESG&nbsp; bonds มีมูลค่า 69 พันล้าน<br>ดอลลาร์สหรัฐ เพิ่มขึ้น 19.7% จากไตรมาส 1<br>การออก ESG bonds ของอาเซียน +3 มี<br>สัดส่วน 26.8% ของการออก ESG bonds<br>ทั้งหมดของโลก</div>
<div class="tx" style="left:69px;top:856px;">ESG bonds ส่วนใหญ่มีอายุต่ำกว่า 5 ปี<br>คิดเป็นสัดส่วน 82.9% ของการออกทั้งหมด<br>และมีอายุเฉลี่ย 4.8 ปี</div>
<div class="tx" style="left:539px;top:856px;">ESG bonds ส่วนใหญ่ออกเป็นเงินสกุลท้องถิ่น<br>ของประเทศผู้ออก คิดเป็น 78.4% ของยอดการ<br>ออกทั้งหมด</div>
<div class="tx" style="left:531px;top:1015px;">Green bond มีการออกมากที่สุดที่ 44.7<br>พันล้านดอลลาร์สหรัฐ คิดเป็น 64.8% ของการ<br>ออก ESG bonds ทั้งหมดของอาเซียน +3<br>&nbsp;<br>ผู้ออกหลักของ ESG bonds คือ ภาคเอกชนมี<br>มูลค่าการออก 46.7 พันล้านดอลลาร์สหรัฐ<br>คิดเป็นสัดส่วน 69% ของการออก ESG bonds<br>ทั้งหมดของอาเซียน +3</div>

<!-- Source -->
<div class="abs" style="left:48px;top:1283px;font-size:22px;line-height:22px;color:#fff;white-space:nowrap;">ที่มา : https://asianbondsonline.adb.org/newsletters/aboesg202308.pdf</div>
</body></html>
